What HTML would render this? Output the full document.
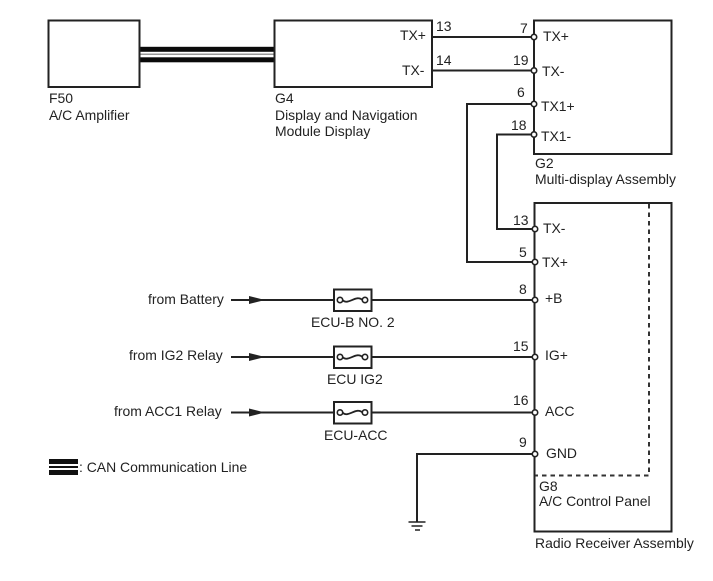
<!DOCTYPE html>
<html><head><meta charset="utf-8"><style>
html,body{margin:0;padding:0;background:#fff}
svg{display:block}
text{font-family:"Liberation Sans",sans-serif;font-size:13.95px;fill:#222}
.l{fill:none;stroke:#222;stroke-width:2}
.c{fill:#fff;stroke:#222;stroke-width:1.6}
</style></head><body>
<svg width="713" height="581" viewBox="0 0 713 581" xmlns="http://www.w3.org/2000/svg">
<rect width="713" height="581" fill="#fff"/>
<!-- CAN bus -->
<rect x="139" y="46.800" width="135" height="5" fill="#0a0a0a"/>
<rect x="139" y="53.500" width="135" height="1.500" fill="#999"/>
<rect x="139" y="57.300" width="135" height="5" fill="#0a0a0a"/>
<!-- boxes -->
<rect class="l" x="48.500" y="20.500" width="91" height="66.500"/>
<rect class="l" x="274.500" y="20.500" width="157.500" height="66.500"/>
<rect class="l" x="534" y="20.500" width="137.500" height="133.500"/>
<rect class="l" x="534.500" y="203" width="137" height="328.500"/>
<path d="M649 204V475.500H535" fill="none" stroke="#333" stroke-width="2" stroke-dasharray="4.500 4"/>
<!-- wires -->
<path class="l" d="M432 37H534M432 70.500H534M534 104H467V262H534M534 134.500H497V229H534"/>
<path class="l" d="M231 300H334M372 300H534M231 357H334M372 357H534M231 412.500H334M372 412.500H534"/>
<path class="l" d="M534 454H417V522"/>
<path class="l" d="M408.500 522H425.500M411.500 526H422.500M415 530H420" style="stroke-width:1.600"/>
<!-- arrows -->
<path d="M249 296L265 300L249 304Z" fill="#222"/>
<path d="M249 353L265 357L249 361Z" fill="#222"/>
<path d="M249 408.500L265 412.500L249 416.500Z" fill="#222"/>
<!-- fuses -->
<g><rect class="l" x="334" y="289.500" width="37.500" height="21.500" fill="#fff"/>
<circle class="c" cx="340" cy="300" r="2.700"/><circle class="c" cx="365" cy="300" r="2.700"/>
<path d="M342.500 300C348 306 356 294 362.500 300" fill="none" stroke="#222" stroke-width="1.800"/></g>
<g transform="translate(0,57)"><rect class="l" x="334" y="289.500" width="37.500" height="21.500" fill="#fff"/>
<circle class="c" cx="340" cy="300" r="2.700"/><circle class="c" cx="365" cy="300" r="2.700"/>
<path d="M342.500 300C348 306 356 294 362.500 300" fill="none" stroke="#222" stroke-width="1.800"/></g>
<g transform="translate(0,112.500)"><rect class="l" x="334" y="289.500" width="37.500" height="21.500" fill="#fff"/>
<circle class="c" cx="340" cy="300" r="2.700"/><circle class="c" cx="365" cy="300" r="2.700"/>
<path d="M342.500 300C348 306 356 294 362.500 300" fill="none" stroke="#222" stroke-width="1.800"/></g>
<!-- terminals -->
<circle class="c" cx="534" cy="37" r="2.700"/>
<circle class="c" cx="534" cy="70.500" r="2.700"/>
<circle class="c" cx="534" cy="104" r="2.700"/>
<circle class="c" cx="534" cy="134.500" r="2.700"/>
<circle class="c" cx="535" cy="229" r="2.700"/>
<circle class="c" cx="535" cy="262" r="2.700"/>
<circle class="c" cx="535" cy="300" r="2.700"/>
<circle class="c" cx="535" cy="357" r="2.700"/>
<circle class="c" cx="535" cy="412.500" r="2.700"/>
<circle class="c" cx="535" cy="454" r="2.700"/>
<!-- legend -->
<rect x="49" y="459" width="29" height="5" fill="#111"/>
<rect x="49" y="466" width="29" height="2" fill="#111"/>
<rect x="49" y="470" width="29" height="5" fill="#111"/>
<!-- labels -->
<text x="49" y="103">F50</text>
<text x="49" y="120">A/C Amplifier</text>
<text x="275" y="103">G4</text>
<text x="275" y="120">Display and Navigation</text>
<text x="275" y="136">Module Display</text>
<text x="400" y="40">TX+</text>
<text x="402" y="75">TX-</text>
<text x="436" y="31">13</text>
<text x="436" y="65">14</text>
<text x="520" y="33">7</text>
<text x="513" y="65">19</text>
<text x="517" y="97">6</text>
<text x="511" y="130">18</text>
<text x="543" y="41">TX+</text>
<text x="542" y="76">TX-</text>
<text x="541" y="111">TX1+</text>
<text x="541" y="141">TX1-</text>
<text x="535" y="168">G2</text>
<text x="535" y="184">Multi-display Assembly</text>
<text x="513" y="225">13</text>
<text x="519" y="257">5</text>
<text x="543" y="233">TX-</text>
<text x="542" y="267">TX+</text>
<text x="519" y="294">8</text>
<text x="513" y="351">15</text>
<text x="513" y="405">16</text>
<text x="519" y="447">9</text>
<text x="545" y="303">+B</text>
<text x="545" y="360">IG+</text>
<text x="545" y="416">ACC</text>
<text x="546" y="458">GND</text>
<text x="539" y="491">G8</text>
<text x="539" y="506">A/C Control Panel</text>
<text x="535" y="548">Radio Receiver Assembly</text>
<text x="148" y="304">from Battery</text>
<text x="129" y="360">from IG2 Relay</text>
<text x="114" y="416">from ACC1 Relay</text>
<text x="311" y="327">ECU-B NO. 2</text>
<text x="327" y="384">ECU IG2</text>
<text x="324" y="440">ECU-ACC</text>
<text x="79" y="472">: CAN Communication Line</text>
</svg>
</body></html>
